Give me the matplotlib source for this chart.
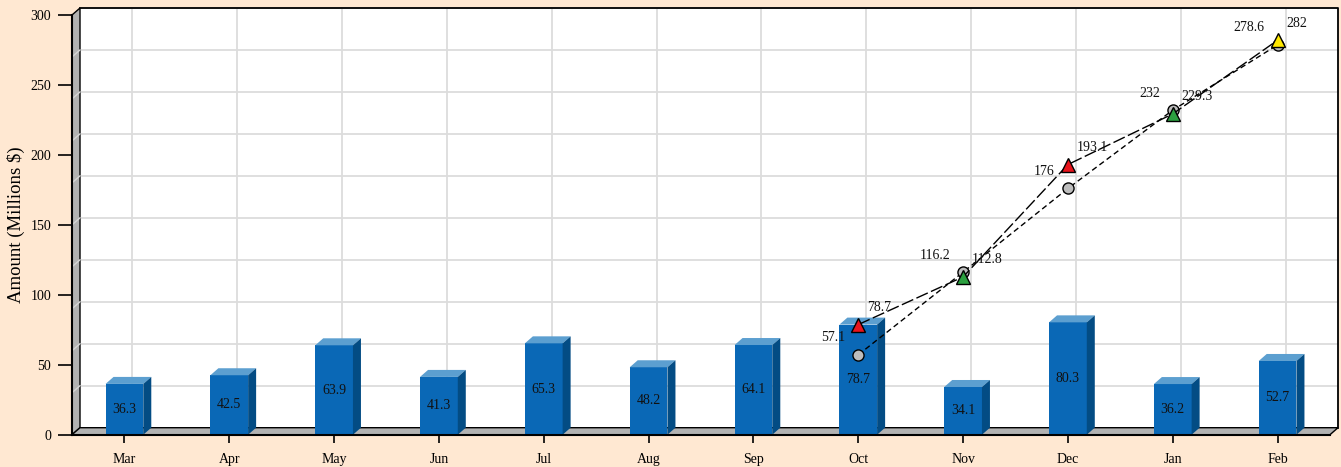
import matplotlib
matplotlib.use('Agg')
import matplotlib.pyplot as plt
from matplotlib.patches import Polygon, Rectangle

plt.rcParams['font.family'] = ['Liberation Serif', 'DejaVu Serif']

# ---- data ----
months = ['Mar', 'Apr', 'May', 'Jun', 'Jul', 'Aug', 'Sep', 'Oct', 'Nov', 'Dec', 'Jan', 'Feb']
bar_values = [36.3, 42.5, 63.9, 41.3, 65.3, 48.2, 64.1, 78.7, 34.1, 80.3, 36.2, 52.7]
line_months = ['Oct', 'Nov', 'Dec', 'Jan', 'Feb']
tri_values = [78.7, 112.8, 193.1, 229.3, 282.0]
tri_colors = ['#E8141C', '#2CA040', '#E8141C', '#2CA040', '#FFE800']
circ_values = [57.1, 116.2, 176.0, 232.0, 278.6]
y_ticks = [0, 50, 100, 150, 200, 250, 300]
grid_values = [0, 30, 60, 90, 120, 150, 180, 210, 240, 270, 300]
y_label = 'Amount (Millions $)'

# ---- style ----
BG = '#FFE8D2'
BAR_FRONT = '#0A68B6'
BAR_TOP = '#5C9FD0'
BAR_SIDE = '#034C84'
WALL = '#B2B2B2'
GRID = '#DCDCDC'
FS = 10

W, H = 1341, 467
fig = plt.figure(figsize=(W / 100, H / 100), dpi=100, facecolor=BG)
ax_l, ax_r, ax_t, ax_b = 72, 1330, 15, 434.7
ax = fig.add_axes([ax_l / W, (H - ax_b) / H, (ax_r - ax_l) / W, (ax_b - ax_t) / H])
n = len(months)
ax.set_xlim(-0.5, n - 0.5)
ax.set_ylim(0, 300)
ax.set_facecolor('white')

# depth offset (pixels -> data units)
DXP, DYP = 8, 7
dx = DXP * n / (ax_r - ax_l)
dy = DYP * 300 / (ax_b - ax_t)
x0, x1 = -0.5, n - 0.5

# back wall
ax.add_patch(Polygon([(x0 + dx, dy), (x1 + dx, dy), (x1 + dx, 300 + dy), (x0 + dx, 300 + dy)],
                     closed=True, facecolor='white', edgecolor='none', zorder=0, clip_on=False))
# grid on back wall
for g in grid_values:
    ax.plot([x0 + dx, x1 + dx], [g + dy, g + dy], color=GRID, lw=1.3, zorder=1, clip_on=False)
for i in range(n):
    ax.plot([i + dx, i + dx], [dy, 300 + dy], color=GRID, lw=1.3, zorder=1, clip_on=False)

# left wall and floor
ax.add_patch(Polygon([(x0, 0), (x0 + dx, dy), (x0 + dx, 300 + dy), (x0, 300)], closed=True,
                     facecolor=WALL, edgecolor='black', lw=1.0, zorder=2, clip_on=False))
for g in grid_values[1:-1]:
    ax.plot([x0, x0 + dx], [g, g + dy], color='#D6D6D6', lw=1.0, zorder=2.1, clip_on=False)
ax.add_patch(Polygon([(x0, 0), (x1, 0), (x1 + dx, dy), (x0 + dx, dy)], closed=True,
                     facecolor=WALL, edgecolor='black', lw=1.0, zorder=2, clip_on=False))
# outer border of the box
ax.plot([x0 + dx, x1 + dx, x1 + dx], [300 + dy, 300 + dy, dy], color='black', lw=1.3,
        zorder=2.2, clip_on=False)

# bars
bw = 0.36
for i, v in enumerate(bar_values):
    l, r = i - bw / 2, i + bw / 2
    ax.add_patch(Rectangle((l, 0), bw, v, facecolor=BAR_FRONT, edgecolor='none', zorder=3))
    ax.add_patch(Polygon([(l, v), (r, v), (r + dx, v + dy), (l + dx, v + dy)], closed=True,
                         facecolor=BAR_TOP, edgecolor='none', zorder=3, clip_on=False))
    ax.add_patch(Polygon([(r, 0), (r + dx, dy), (r + dx, v + dy), (r, v)], closed=True,
                         facecolor=BAR_SIDE, edgecolor='none', zorder=3, clip_on=False))
    ax.text(i, v / 2, f'{v:g}', ha='center', va='center', fontsize=FS, color='#111111', zorder=4)

# lines
lx = [months.index(m) for m in line_months]
ax.plot(lx, circ_values, color='black', lw=1.0, ls=(0, (4, 2.5)), marker='o', ms=8,
        mfc='#BDBDBD', mec='black', mew=1.0, zorder=5)
ax.plot(lx, tri_values, color='black', lw=1.0, ls=(0, (9, 2.5)), zorder=6)
for xi, v, c in zip(lx, tri_values, tri_colors):
    ax.plot([xi], [v], marker='^', ms=9.5, mfc=c, mec='black', mew=1.0, zorder=7, ls='none')

for xi, v in zip(lx, tri_values):
    ax.annotate(f'{v:g}', (xi, v), xytext=(9, 17), textcoords='offset pixels',
                ha='left', va='center', fontsize=FS, color='#111111', zorder=8)
for xi, v in zip(lx, circ_values):
    ax.annotate(f'{v:g}', (xi, v), xytext=(-13, 17), textcoords='offset pixels',
                ha='right', va='center', fontsize=FS, color='#111111', zorder=8)

# axes
for s in ['top', 'right']:
    ax.spines[s].set_visible(False)
for s in ['left', 'bottom']:
    ax.spines[s].set_color('black')
    ax.spines[s].set_linewidth(1.5)
    ax.spines[s].set_zorder(9)
ax.set_yticks(y_ticks)
ax.set_xticks(range(n))
ax.set_xticklabels(months)
ax.tick_params(axis='y', length=10, width=1.2, direction='out', pad=5, labelsize=FS, colors='black')
ax.tick_params(axis='x', length=6, width=1.2, direction='out', pad=7, labelsize=FS, colors='black')
ax.set_ylabel(y_label, fontsize=13.5, color='black')
ax.yaxis.set_label_coords(-0.037, 0.5)

fig.savefig('out.png', dpi=100, facecolor=BG)
